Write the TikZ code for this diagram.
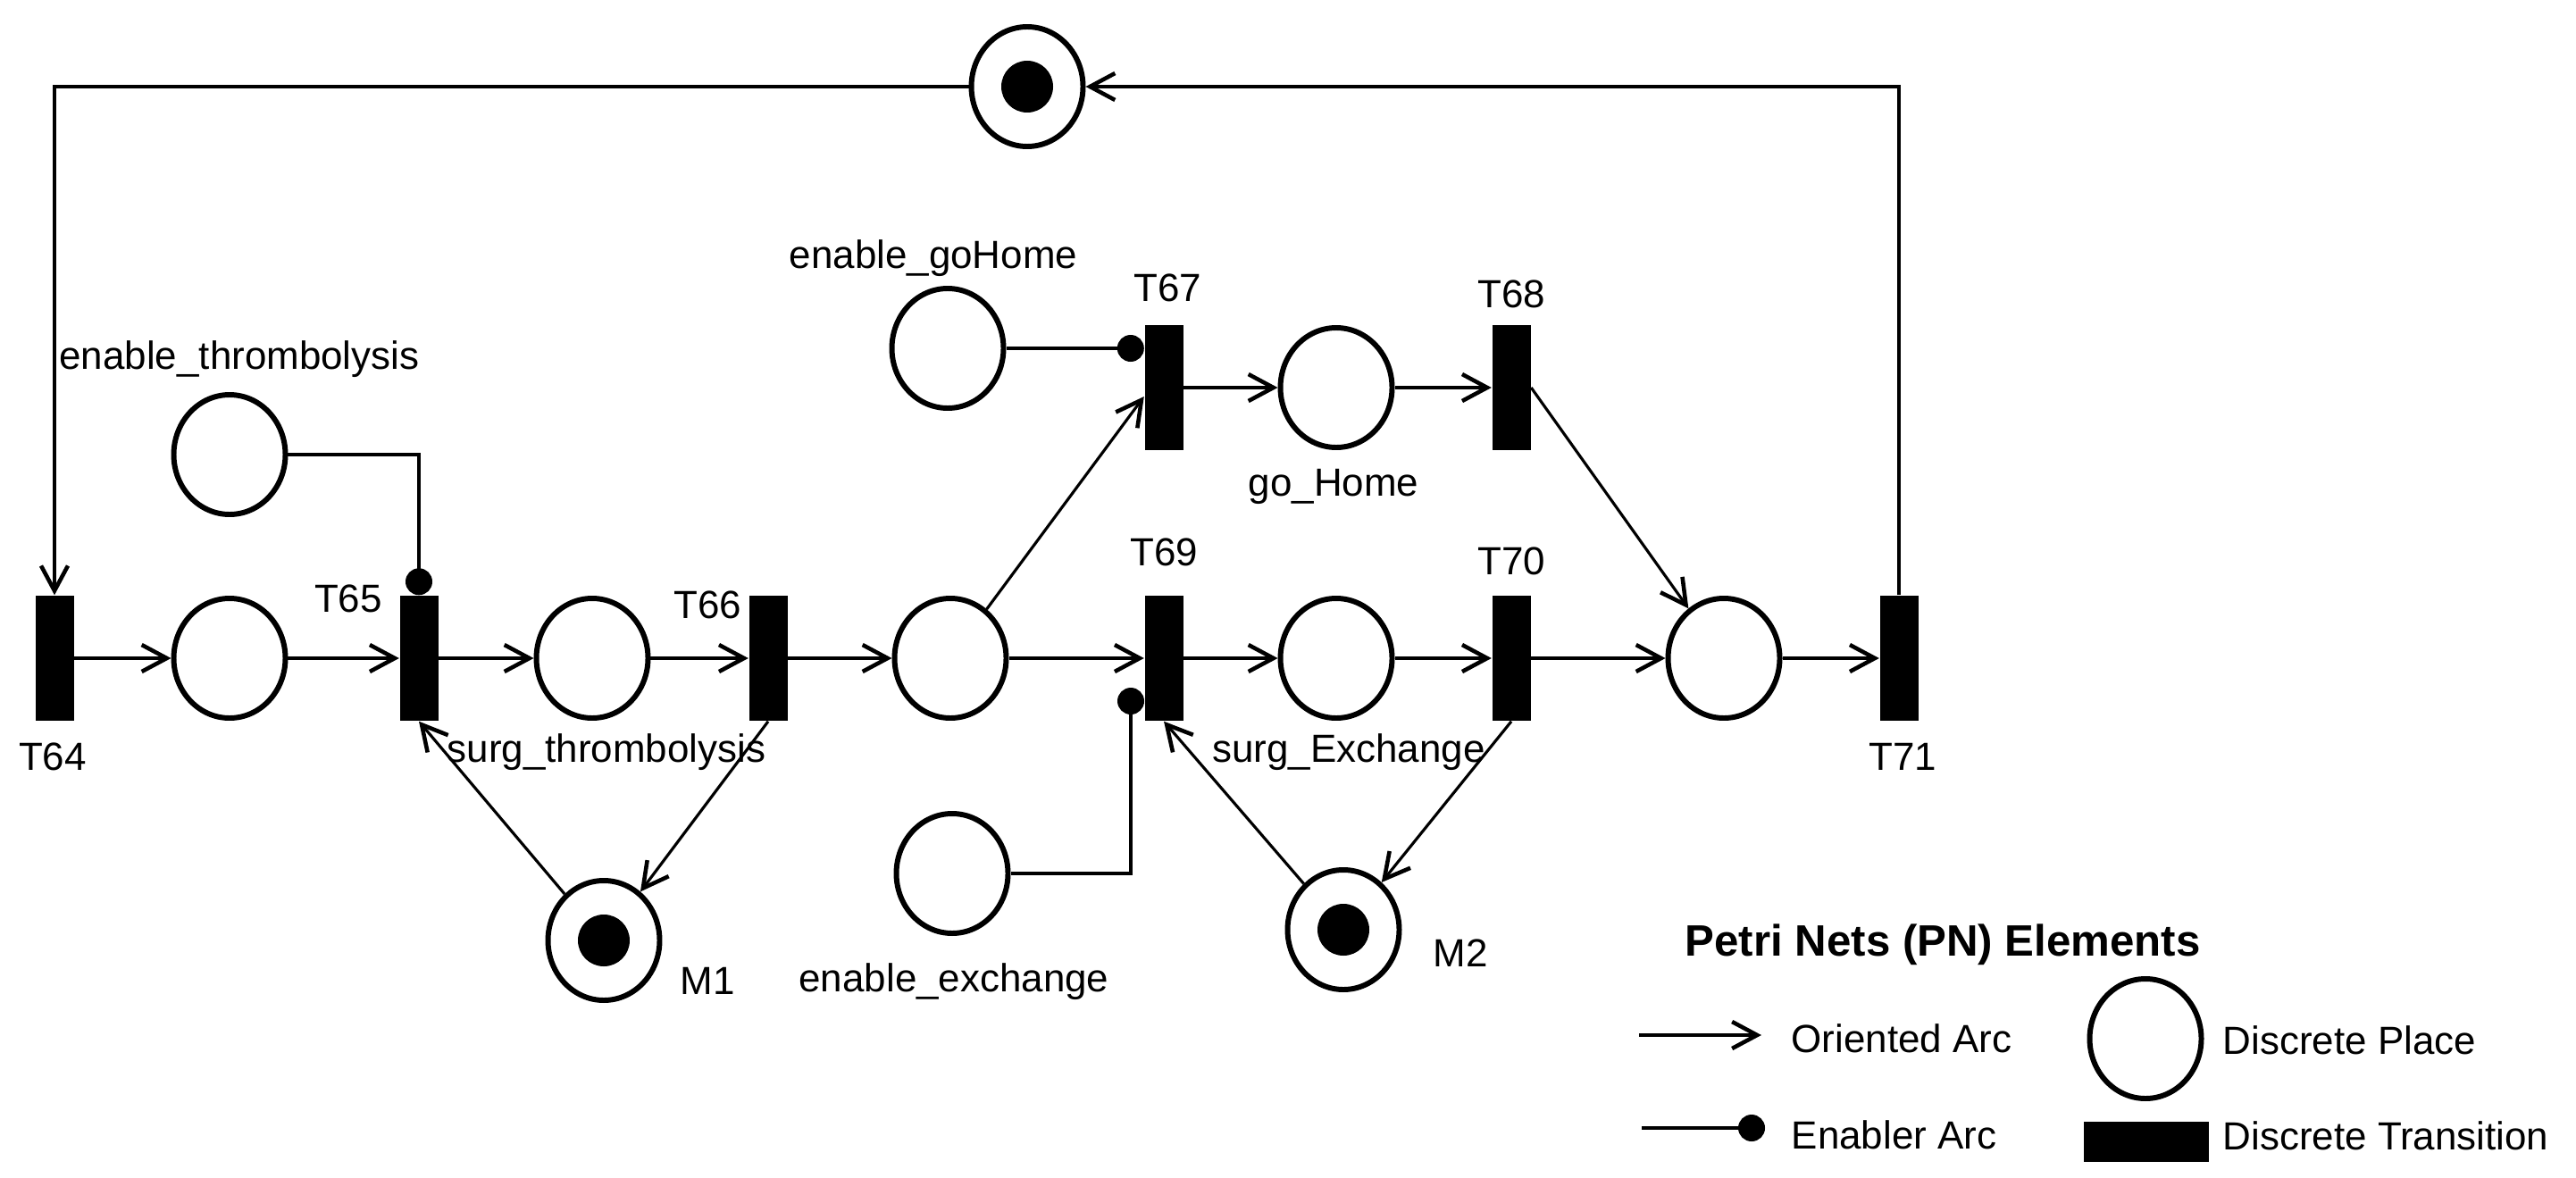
\documentclass[tikz,border=0pt]{standalone}
\usepackage{fontspec}
\setmainfont{Liberation Sans}
\usetikzlibrary{arrows.meta, shapes.geometric}

\begin{document}
\begin{tikzpicture} [scale = 1,
  place/.style = {draw, ellipse, line width = 1.7pt, minimum width = 1.25cm, minimum height = 1.34cm, inner sep = 0pt},
  token/.style = {circle, fill = black, minimum size = 0.58cm, inner sep = 0pt},
  trans/.style = {rectangle, fill = black, minimum width = 0.43cm, minimum height = 1.4cm, inner sep = 0pt},
  lbl/.style = {anchor = base, inner sep = 0pt, font = \fontsize{12.5}{15}\selectfont},
  oriented/.style = {black, line width = 0.9pt, -{Straight Barb[length = 2.8mm, width = 3mm, line width = 1.3pt]}},
  enabling/.style = {black, line width = 0.9pt, -{Circle[length = 3mm]}}]
\useasboundingbox (0, 0) rectangle (28.84, 13.18);

\node[trans] (T64) at (0.61, 5.81) {};
\node[place] (p1) at (2.57, 5.81) {};
\node[trans] (T65) at (4.69, 5.81) {};
\node[place] (surgThr) at (6.63, 5.81) {};
\node[trans] (T66) at (8.60, 5.81) {};
\node[place] (p3) at (10.64, 5.81) {};
\node[trans] (T69) at (13.03, 5.81) {};
\node[place] (surgEx) at (14.96, 5.81) {};
\node[trans] (T70) at (16.92, 5.81) {};
\node[place] (p5) at (19.30, 5.81) {};
\node[trans] (T71) at (21.26, 5.81) {};
\node[trans] (T67) at (13.03, 8.84) {};
\node[place] (goHome) at (14.96, 8.84) {};
\node[trans] (T68) at (16.92, 8.84) {};
\node[place] (enThr) at (2.57, 8.09) {};
\node[place] (enGo) at (10.61, 9.28) {};
\node[place] (enEx) at (10.66, 3.40) {};
\node[place] (M1) at (6.76, 2.65) {};
\node[place] (M2) at (15.04, 2.77) {};
\node[place] (top) at (11.50, 12.21) {};
\foreach \p in {top, M1, M2}
  \node[token] (tok\p) at (\p) {};
\coordinate (exDot) at (12.66, 5.48);

\node[lbl] (lEnThr) at (2.68, 9.05) {enable\_thrombolysis};
\node[lbl] (lEnGo) at (10.45, 10.18) {enable\_goHome};
\node[lbl] (lT67) at (13.07, 9.81) {T67};
\node[lbl] (lT68) at (16.92, 9.74) {T68};
\node[lbl] (lGoHome) at (14.93, 7.63) {go\_Home};
\node[lbl] (lT65) at (3.90, 6.33) {T65};
\node[lbl] (lT66) at (7.92, 6.26) {T66};
\node[lbl] (lT69) at (13.03, 6.85) {T69};
\node[lbl] (lT70) at (16.92, 6.75) {T70};
\node[lbl] (lT64) at (0.59, 4.56) {T64};
\node[lbl] (lSurgThr) at (6.79, 4.65) {surg\_thrombolysis};
\node[lbl] (lSurgEx) at (15.10, 4.65) {surg\_Exchange};
\node[lbl] (lT71) at (21.30, 4.56) {T71};
\node[lbl] (lM1) at (7.92, 2.05) {M1};
\node[lbl] (lM2) at (16.35, 2.36) {M2};
\node[lbl] (lEnEx) at (10.68, 2.08) {enable\_exchange};

\foreach \a/\b in {T64/p1, p1/T65, T65/surgThr, surgThr/T66, T66/p3, p3/T69, T69/surgEx, surgEx/T70, T70/p5, p5/T71, T67/goHome, goHome/T68}
  \draw[oriented] (\a) -- (\b);
\draw[oriented] (p3) -- ([yshift = -1mm]T67.west);
\draw[oriented] (T68.east) -- (p5);
\draw[oriented] (T66.south) -- (M1);
\draw[oriented] (M1) -- (T65.south);
\draw[oriented] (M2) -- (T69.south);
\draw[oriented] (T70.south) -- (M2);
\draw[oriented] (T71.north) |- (top);
\draw[oriented] (top) -| (T64.north);
\draw[enabling] (enThr) -| (T65.north);
\draw[enabling] (enGo) -- (enGo -| T67.west);
\draw[enabling] (enEx) -| (exDot);

\node[lbl, anchor = base west, font = \bfseries\fontsize{14}{17}\selectfont] (lgTitle) at (18.86, 2.48) {Petri Nets (PN) Elements};
\coordinate (lgA1) at (18.35, 1.59);
\coordinate (lgA2) at (19.72, 1.59);
\coordinate (lgE1) at (18.38, 0.55);
\coordinate (lgE2) at (19.76, 0.55);
\draw[oriented] (lgA1) -- (lgA2);
\draw[enabling] (lgE1) -- (lgE2);
\node[place] (lgPlace) at (24.02, 1.55) {};
\node[trans, minimum width = 1.4cm, minimum height = 0.45cm] (lgTrans) at (24.03, 0.40) {};
\node[lbl, anchor = base west] (lgOri) at (20.05, 1.40) {Oriented Arc};
\node[lbl, anchor = base west] (lgEna) at (20.05, 0.32) {Enabler Arc};
\node[lbl, anchor = base west] (lgDP) at (24.88, 1.38) {Discrete Place};
\node[lbl, anchor = base west] (lgDT) at (24.88, 0.31) {Discrete Transition};
\end{tikzpicture}
\end{document}
